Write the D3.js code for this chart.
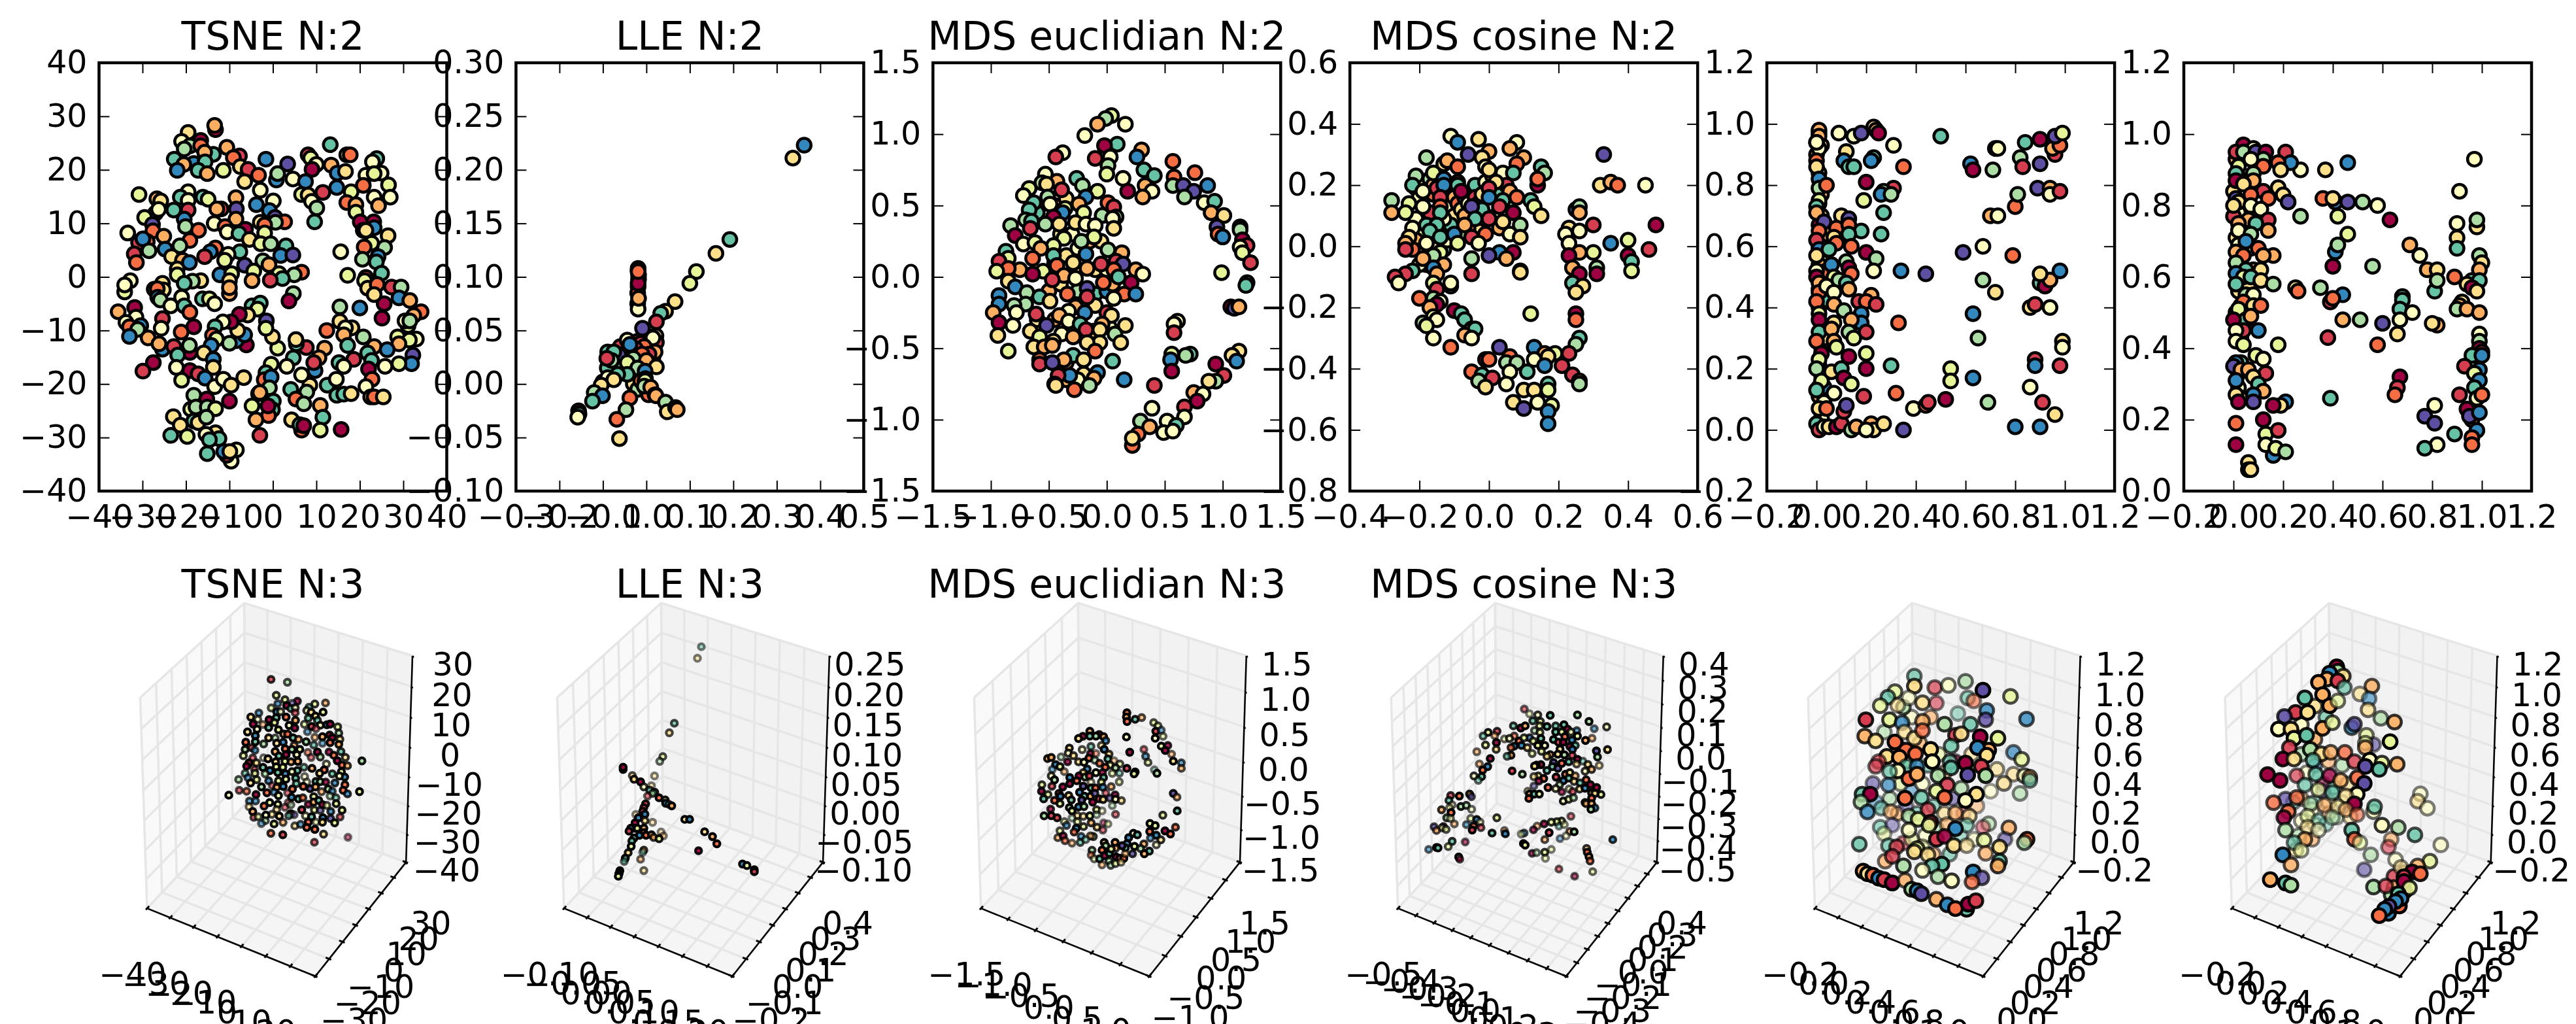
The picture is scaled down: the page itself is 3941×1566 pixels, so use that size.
<!DOCTYPE html>
<html>
<head>
<meta charset="utf-8">
<script src="https://cdn.jsdelivr.net/npm/d3@7"></script>
<style>
  html, body { margin: 0; padding: 0; background: #fff; overflow: hidden; }
  text { font-family: "DejaVu Sans", sans-serif; }
</style>
</head>
<body>
<div id="chart"></div>
<script>
var spectral = ["#9e0142","#d53e4f","#f46d43","#fdae61","#fee08b","#ffffbf","#e6f598","#abdda4","#66c2a5","#3288bd","#5e4fa2"];

// top row, each point is [x, y, colour index]
var tsne2 = [[-13.2,27.5,0],[-13.4,28.3,3],[-19.5,27,4],[-21,25.3,5],[-16.6,25.5,0],[-19.1,24.5,7],[-16.6,24.5,2],[-20.4,23.9,7],[-10.6,24.2,3],[-7.7,22.6,1],[-9.1,22.3,2],[-13.7,22.9,8],[-15.7,23.3,3],[-22.7,22,8],[-18.2,21.2,9],[-20.5,21,3],[-15.6,21.5,8],[-1.6,22,9],[3.4,21.1,10],[-22,19.9,9],[-17.2,19.9,8],[-15.1,19.3,3],[-11.4,19.9,6],[-7.5,20.6,4],[-5.7,20.1,1],[-3.3,19,2],[-6.5,17.8,4],[.8,18.1,9],[1.1,19.3,7],[4.6,18.3,5],[8.1,22.8,1],[8.7,22.2,6],[13.2,24.7,8],[10,21,5],[9,20.1,0],[13.4,20.9,3],[14.8,19.4,9],[16.7,19.7,4],[17,22.8,4],[17.8,22.8,2],[23.9,22.1,8],[22.9,21.5,5],[24.9,19.4,5],[21.4,19,5],[23.3,19.3,6],[26.6,17.2,6],[20.8,17.1,2],[7.5,17.8,9],[18,15.9,6],[14.7,16.7,9],[11.5,15.8,1],[6.6,15.4,6],[8.1,15.3,4],[8.9,14.1,5],[10.1,12.9,7],[-2.9,16.2,5],[.1,14.2,5],[-3.8,13.5,9],[-8.5,14.8,3],[-8.4,12.7,10],[-.8,12.4,9],[.5,11.1,10],[-8.5,10.8,3],[-2.9,10.2,4],[2.7,10.3,2],[.6,10.2,7],[-1.9,9.7,2],[9.6,10.3,8],[23.3,14.9,5],[27,14.9,5],[24.3,13.3,3],[17,13.9,2],[19.1,13.5,3],[19.1,12.1,6],[20.1,10.3,0],[23.2,10.3,0],[23.3,9.2,9],[20.8,8.7,4],[21.4,8.7,4],[26.5,7.7,4],[22.7,6.3,6],[21,5.6,2],[25.7,5.5,7],[15.6,4.7,5],[20.6,3.3,7],[24.2,3.8,9],[23.8,2.8,8],[25,.7,8],[17.2,.3,6],[-30.8,15.4,6],[-26.7,14.6,3],[-25.8,14.2,4],[-27,11.9,9],[-26.3,12.6,5],[-22.8,12.5,8],[-19.5,15.9,5],[-21.3,14.9,8],[-19.5,14.3,5],[-19.5,12.5,1],[-16.1,14.9,8],[-14.9,14.5,6],[-11.9,12.7,1],[-12.9,12.7,3],[-29.5,11.1,6],[-27.7,9.8,10],[-27.6,8.6,2],[-33.4,8.2,5],[-20.4,10.8,9],[-20.1,9.4,7],[-17.1,8.7,2],[-13.5,10,5],[-11,9.4,2],[-10.5,8.4,5],[-6.3,8.9,0],[-7.8,8.1,8],[-5.4,7,4],[-1.9,8.2,6],[-30.9,6.4,1],[-28.9,6.6,2],[-29.9,7.1,9],[-25.1,7.6,3],[-19.1,6.8,2],[-21.4,5.8,7],[-2.8,6.2,6],[-.5,6.2,7],[3,5.8,8],[-24.8,5.2,9],[-13.2,5.4,2],[-14.4,4.7,9],[-28.5,4.9,7],[-31.9,4.3,1],[-7.6,4.7,8],[-10.3,4.2,5],[-15.7,3.8,1],[-23.3,3.8,4],[-31.4,2.7,2],[-20.8,3.1,3],[-19.2,2.7,9],[-11.1,3.1,6],[-6.5,2.2,10],[-2.3,3,7],[1.8,4,9],[4.6,4.1,10],[-.9,2.3,3],[-22,1.5,4],[-22,.4,6],[-12.2,.4,9],[-9.5,.6,6],[1.4,.6,6],[-4.4,1.1,6],[6.6,.9,2],[4.9,.4,7],[2.2,-.3,8],[-.6,-.6,1],[-4.8,-.7,3],[-10,-.7,4],[-16.6,-.7,4],[-18.5,-.8,7],[-20.4,-1.2,8],[-32.8,-.7,5],[-34.1,-2.8,6],[-34.1,-1.5,5],[-25.4,-1.2,4],[-27.3,-2.3,6],[-25.2,-2.4,4],[-26.6,-2.2,2],[-10,-3.1,3],[-10,-2,3],[-26.5,-3.8,9],[-25.9,-4.3,7],[-21,-3.8,5],[4.7,-3.1,7],[3.7,-4.5,0],[-16.2,-4.1,8],[-14.6,-4.1,6],[-13.4,-5,5],[-23.5,-5.4,5],[-20.4,-5.4,8],[-19.1,-6.6,2],[-31.8,-5.7,0],[-35.6,-6.5,3],[-31.5,-7.5,5],[-33.8,-8.5,5],[-4.8,-5.4,8],[-2.9,-4.9,8],[-3.5,-6,6],[-5.8,-7.1,4],[-7.7,-7,0],[15.4,-5.6,7],[20,-5.8,9],[25.6,-5,0],[21.4,-.1,1],[21.1,-.7,6],[21.8,-2.1,4],[24,-1.4,2],[27.3,-1.9,1],[29.5,-1.9,7],[23.3,-3.3,4],[29,-3.9,9],[31.5,-4.4,3],[34.1,-6.5,2],[32.4,-7.2,3],[25.1,-7.7,0],[31.1,-9.1,6],[30.4,-8.2,5],[31.5,-8.2,7],[15.4,-8.3,4],[18.2,-9.5,4],[16.7,-9.5,5],[16.3,-10.8,3],[12.4,-10,2],[20.8,-11.2,7],[17.2,-12.8,8],[28.7,-11.2,6],[33,-11.6,5],[31.4,-11.8,6],[23.3,-13,3],[29,-12.5,3],[26.3,-13.6,9],[32.2,-14.6,10],[21.8,-14.2,8],[31.9,-16.2,9],[29,-16.2,6],[25.8,-16.7,5],[22.7,-15.6,8],[22,-17.2,0],[18.6,-15.4,1],[15.2,-16,8],[16.3,-16.7,5],[22.8,-19.1,2],[11.9,-13.3,3],[7.7,-13.2,1],[5.4,-12.5,8],[5.3,-11.7,4],[4.7,-15.1,8],[10.6,-15.1,3],[9.7,-17.5,9],[9.4,-16,1],[3.2,-16.7,5],[-.4,-16.3,6],[1.1,-13.3,6],[-.1,-11.2,4],[-1.5,-8.2,10],[-1.6,-9.6,6],[-6.1,-12.7,0],[-8.4,-11.9,9],[-6.5,-10.8,9],[-8.1,-10,4],[-9.6,-8.4,0],[-11.5,-8.4,5],[-13.3,-9.3,8],[-13.9,-10.9,2],[-13,-11.6,6],[-10,-12.4,7],[-14.2,-12.8,9],[-15.9,-14.2,4],[-18.2,-9.3,0],[-21.1,-10.3,2],[-25.4,-7.8,1],[-25.7,-9.6,5],[-33,-9.3,2],[-30.4,-9.1,9],[-31.1,-9.8,7],[-33,-11.1,9],[-28.7,-11.4,3],[-25.4,-13.5,9],[-26.2,-12.5,3],[-22.8,-13,1],[-19.1,-14.1,0],[-19.2,-12.8,7],[-21.9,-14.6,8],[-27.5,-16,0],[-29.9,-17.6,1],[-22.2,-16.9,5],[-19.1,-17.5,0],[-17.2,-18.1,1],[-13.7,-15.4,9],[-13.7,-16.9,4],[-15.6,-18.9,9],[-21,-19.3,6],[-13.4,-20.5,5],[-11.4,-19.1,5],[-9.6,-20.2,4],[-6.7,-18.8,4],[-1.6,-17.9,8],[-2,-19.2,2],[-.4,-18.7,9],[-.8,-20.7,7],[-3.3,-21.8,1],[-3,-21.6,3],[.1,-23.2,8],[4.1,-21,8],[8.5,-20.2,4],[6.6,-18.3,5],[7.8,-21.5,7],[5.3,-22.8,2],[7.1,-23.7,7],[10.9,-24,3],[12.5,-20.2,8],[14.6,-19.1,5],[14.7,-22.1,8],[16.3,-21.9,8],[18,-21.8,4],[21.4,-20.5,5],[22.5,-22.4,3],[23.3,-22.4,2],[25.4,-22.4,4],[-18.2,-22.1,7],[-15.2,-22.8,0],[-18.9,-24.7,6],[-17.7,-24.3,7],[-15.1,-24.3,7],[-13.2,-24.6,6],[-10,-23.2,0],[-4.8,-24.1,6],[-.1,-24.8,8],[-1,-25.9,2],[-1.1,-24.1,0],[-3.9,-26.7,3],[4.3,-26.7,4],[6.6,-28.6,2],[6.2,-27.6,8],[7.1,-27.8,0],[11.5,-26.2,8],[10.9,-28.6,6],[15.7,-28.5,0],[-3,-29.6,1],[-22.9,-26.1,4],[-21.3,-27.7,4],[-18.2,-26.9,8],[-17.2,-27.2,4],[-15.3,-26.2,7],[-23.5,-29.6,8],[-19.7,-29.8,6],[-13.2,-29.1,4],[-15.4,-29.4,5],[-12.4,-30.2,8],[-14.6,-30.4,8],[-15.1,-33,8],[-9.6,-34.4,5],[-10.6,-33.3,1],[-11.3,-32.6,9],[-8.4,-32.3,5],[-9.9,-32.6,4]];

var lle2 = [[-.07,.03,3],[-.06,.035,1],[-.05,.028,3],[-.03,.03,4],[-.02,.04,1],[0,.045,2],[.01,.035,4],[.015,.025,3],[-.01,.02,3],[-.03,.012,5],[-.05,.015,7],[-.065,.02,8],[-.08,.012,6],[-.09,.015,8],[-.03,0,4],[-.02,-.005,7],[0,-.005,8],[.005,-.01,2],[-.1,.002,5],[.363,.223,9],[.337,.211,4],[.192,.135,8],[.16,.122,4],[.115,.105,6],[.1,.094,6],[.066,.077,4],[.044,.068,4],[.033,.066,8],[.023,.058,1],[-.019,.108,0],[-.019,.106,8],[-.018,.102,4],[-.018,.098,0],[-.019,.091,0],[-.02,.085,1],[-.02,.075,5],[-.019,.07,5],[-.018,.08,3],[-.019,.094,0],[-.019,.105,2],[-.009,.052,10],[.022,.045,4],[.023,.039,1],[.015,.043,5],[.02,.03,3],[-.013,.038,1],[-.005,.035,2],[-.025,.033,1],[-.04,.035,3],[-.044,.041,5],[-.038,.037,9],[.006,.028,1],[-.01,.028,2],[-.03,.024,7],[-.063,.027,10],[-.089,.03,8],[-.075,.03,8],[-.08,.022,7],[-.091,.024,1],[-.044,.02,6],[0,.022,3],[.023,.016,4],[-.02,.015,7],[-.003,.012,9],[-.044,.009,8],[-.066,.009,8],[-.089,.006,5],[-.075,.004,4],[-.104,-.001,4],[-.12,-.008,7],[-.101,-.011,9],[-.124,-.016,8],[-.038,-.013,2],[-.047,-.024,7],[-.068,-.033,2],[-.062,-.051,4],[-.156,-.025,0],[-.155,-.028,8],[-.158,-.031,5],[-.013,.003,2],[-.002,.005,5],[-.003,.001,4],[-.003,.003,6],[-.005,-.002,7],[.01,-.003,3],[.02,-.01,0],[.022,-.011,3],[.044,-.017,7],[.048,-.026,4],[.067,-.022,3],[.071,-.024,3]];

var mdsEuc2 = [[-.4,.3,4],[-.3,.3,5],[-.45,.1,3],[-.35,.15,4],[-.25,.2,5],[-.15,.25,3],[-.05,.25,4],[-.25,.05,3],[-.1,.05,4],[0,.05,5],[-.5,-.1,3],[-.4,-.05,4],[-.25,-.1,7],[-.1,-.12,8],[0,-.1,9],[.05,-.05,3],[-.6,-.3,4],[-.45,-.3,3],[-.3,-.4,5],[-.1,-.2,4],[-.12,-.38,3],[.02,-.35,5],[-.35,-.6,3],[-.2,-.68,4],[-.35,-.72,3],[-.25,-.72,5],[-.6,.45,8],[-.45,.5,3],[-.35,.55,4],[-.75,.05,3],[.04,1.13,6],[-.01,1.11,7],[.16,1.07,5],[-.08,1.07,3],[-.19,.99,5],[.09,.93,8],[-.02,.92,0],[.3,.89,3],[.03,.84,5],[-.1,.83,1],[.26,.84,9],[-.38,.87,5],[-.44,.84,1],[.57,.81,2],[.01,.78,7],[.32,.75,8],[0,.72,6],[.41,.71,8],[.76,.73,2],[.58,.7,2],[.14,.69,5],[.33,.64,3],[-.53,.72,5],[-.43,.67,3],[-.56,.66,7],[-.52,.65,4],[-.26,.69,8],[-.21,.64,7],[.57,.64,7],[.66,.64,10],[.87,.64,9],[.75,.6,10],[.18,.6,0],[.39,.6,5],[.31,.56,3],[.67,.56,7],[-.39,.61,1],[-.67,.62,6],[-.72,.57,5],[-.08,.6,6],[-.18,.56,9],[.84,.52,5],[.93,.53,8],[-.51,.56,7],[-.63,.52,8],[-.49,.51,5],[-.24,.51,3],[.01,.52,2],[.06,.49,1],[-.67,.47,8],[-.36,.48,6],[-.38,.45,9],[-.2,.45,6],[.9,.45,3],[1.01,.43,4],[-.04,.43,7],[.08,.42,7],[.05,.41,5],[-.46,.42,0],[-.7,.4,7],[-.65,.39,8],[-.53,.37,7],[-.41,.37,4],[-.27,.38,4],[-.18,.37,5],[-.83,.36,7],[-.66,.34,1],[.06,.34,4],[-.1,.36,5],[.95,.35,10],[1.15,.35,0],[1.15,.33,7],[.96,.3,2],[1,.28,9],[-.79,.29,0],[-.11,.28,6],[-.37,.27,6],[-.72,.23,5],[-.62,.24,6],[-.22,.25,7],[1.17,.26,0],[1.21,.22,1],[1.15,.21,5],[1.17,.17,6],[1.24,.1,1],[-.46,.22,6],[-.57,.2,3],[.01,.19,7],[.13,.17,3],[-.87,.18,8],[-.85,.13,6],[-.93,.11,1],[-.85,.06,2],[-.95,.04,6],[-.64,.13,2],[-.46,.15,8],[-.18,.16,9],[-.29,.1,4],[-.43,.08,2],[-.05,.09,1],[.08,.11,1],[.14,.09,10],[-.17,.06,3],[.06,.05,2],[.25,.05,3],[.31,.02,5],[.99,.03,6],[-.55,.04,6],[-.64,.02,0],[-.37,.01,3],[-.27,-.01,5],[.1,0,8],[1.21,-.04,6],[1.2,-.06,8],[-.47,-.02,1],[-.85,-.03,4],[-.03,-.04,2],[.21,-.04,0],[-.17,-.08,10],[-.79,-.07,9],[-.93,-.13,9],[-.69,-.11,7],[-.58,-.14,8],[-.34,-.12,2],[-.17,-.14,1],[.15,-.12,2],[.25,-.12,9],[-.49,-.17,4],[.06,-.15,5],[-.93,-.19,9],[-.7,-.19,7],[-.27,-.21,3],[1.07,-.21,0],[1.1,-.22,10],[1.14,-.21,3],[-.8,-.2,7],[-.78,-.25,5],[-.98,-.25,3],[-.33,-.24,5],[-.41,-.27,3],[-.19,-.25,9],[0,-.25,1],[.04,-.27,4],[-.61,-.26,1],[-.93,-.32,0],[.61,-.31,5],[.58,-.33,5],[-.33,-.31,5],[-.23,-.33,8],[-.04,-.33,3],[.16,-.34,4],[-.81,-.34,5],[-.52,-.34,10],[-.18,-.37,1],[-.06,-.37,4],[-.66,-.38,4],[.58,-.39,1],[-.39,-.4,5],[.07,-.4,7],[-.94,-.41,4],[-.58,-.42,6],[-.29,-.42,3],[-.46,-.45,4],[-.06,-.46,4],[-.17,-.46,4],[.12,-.46,4],[-.63,-.49,4],[-.54,-.49,3],[-.47,-.48,3],[-.85,-.52,6],[-.1,-.52,2],[1.14,-.52,4],[.56,-.54,6],[.72,-.54,8],[.68,-.55,7],[1.08,-.55,4],[-.29,-.55,8],[.55,-.58,9],[1.12,-.59,9],[-.2,-.58,4],[-.37,-.58,3],[.05,-.59,8],[-.58,-.58,2],[-.58,-.61,1],[-.47,-.6,10],[.94,-.61,0],[.56,-.66,0],[1.01,-.69,1],[-.08,-.67,9],[.94,-.73,7],[.88,-.73,4],[-.32,-.69,9],[-.42,-.69,1],[-.11,-.71,3],[.15,-.72,9],[-.45,-.75,1],[-.44,-.76,4],[-.28,-.79,2],[-.15,-.76,7],[.41,-.76,1],[.75,-.81,3],[.83,-.82,5],[.78,-.87,0],[.67,-.91,1],[.39,-.92,5],[.67,-.98,5],[.29,-1.01,7],[.52,-1.01,5],[.6,-1.04,8],[.37,-1.05,3],[.49,-1.09,5],[.57,-1.08,5],[.27,-1.1,2],[.22,-1.18,2],[.22,-1.13,4]];

var mdsCos2 = [[-.21,.19,3],[-.2,.16,5],[-.19,.2,4],[-.17,.22,7],[-.16,.2,3],[-.16,.17,2],[-.15,.19,1],[-.13,.17,0],[-.12,.15,4],[-.11,.19,8],[-.11,.13,5],[-.1,.16,3],[-.1,.1,4],[-.09,.14,2],[-.08,.12,4],[-.07,.16,9],[-.07,.1,3],[-.06,.14,5],[-.05,.18,4],[-.04,.2,8],[-.04,.16,1],[-.03,.14,3],[-.02,.12,8],[-.02,.17,4],[-.01,.21,5],[.01,.23,3],[.03,.18,8],[.04,.24,5],[.05,.2,1],[.06,.15,7],[.02,.1,6],[.03,.06,3],[-.03,.05,4],[-.06,.06,2],[-.08,.04,7],[-.11,.07,8],[-.13,.09,5],[-.16,.09,7],[-.17,.11,1],[-.21,.09,5],[-.2,.04,6],[-.21,.02,3],[-.19,-.01,7],[-.17,-.01,3],[-.15,0,4],[-.13,-.01,8],[-.12,.02,5],[-.18,-.06,4],[-.2,-.06,5],[-.22,-.01,2],[-.11,.36,5],[-.09,.34,9],[-.03,.35,4],[0,.31,3],[.08,.34,5],[.06,.32,3],[.33,.3,10],[-.06,.3,10],[-.18,.29,7],[-.13,.27,4],[-.12,.28,3],[-.02,.29,4],[.1,.29,3],[.08,.27,2],[-.09,.26,2],[.15,.26,8],[.16,.24,7],[-.01,.26,5],[0,.25,4],[-.16,.24,6],[-.21,.23,7],[.07,.24,8],[-.13,.22,9],[.14,.2,0],[.14,.22,2],[.32,.2,4],[.35,.21,3],[.37,.2,2],[.45,.2,5],[-.13,.2,9],[-.09,.21,1],[-.09,.2,8],[.02,.21,4],[-.22,.2,8],[-.19,.18,5],[-.08,.18,0],[0,.19,1],[.06,.18,3],[-.28,.15,7],[-.23,.14,6],[-.14,.16,1],[0,.16,9],[.04,.15,8],[.08,.16,2],[.12,.15,8],[.25,.12,9],[.26,.13,7],[-.05,.13,10],[.03,.13,1],[.13,.13,6],[-.28,.11,3],[-.19,.13,5],[-.14,.13,2],[-.14,.11,8],[.15,.1,4],[-.24,.11,6],[.07,.11,0],[.26,.11,3],[-.04,.09,8],[0,.09,1],[-.07,.07,3],[.04,.08,4],[.09,.07,7],[.3,.07,1],[.48,.07,0],[-.18,.07,8],[-.15,.07,8],[-.22,.06,5],[.23,.06,4],[.26,.05,5],[-.17,.05,8],[.06,.04,5],[-.1,.04,9],[-.14,.03,8],[.22,.04,5],[-.05,.03,1],[-.01,.04,2],[.09,.03,4],[.4,.02,6],[.35,.01,9],[-.23,.03,4],[-.24,.01,3],[-.18,.01,5],[-.09,.01,6],[-.03,.01,5],[.23,.01,5],[.46,-.01,1],[-.14,-.02,6],[.26,-.02,3],[.3,-.02,6],[.03,-.02,9],[0,-.03,10],[.07,-.02,0],[-.24,-.01,1],[-.16,-.03,7],[.23,-.03,0],[-.05,-.04,7],[.05,-.04,3],[.4,-.03,0],[.41,-.05,8],[-.19,-.04,3],[-.13,-.06,3],[-.16,-.07,9],[.24,-.07,3],[.31,-.07,7],[.41,-.08,6],[-.22,-.08,8],[.09,-.08,0],[.09,-.085,4],[-.05,-.09,1],[-.24,-.09,1],[-.15,-.09,3],[-.27,-.1,1],[.26,-.09,0],[.31,-.09,0],[-.26,-.12,5],[-.16,-.12,6],[-.11,-.13,8],[-.11,-.12,5],[.24,-.12,8],[.27,-.13,4],[.25,-.15,4],[-.15,-.14,1],[-.2,-.17,2],[-.16,-.17,7],[-.14,-.18,5],[-.15,-.19,0],[-.17,-.2,3],[-.1,-.21,0],[.12,-.22,6],[.25,-.22,0],[.25,-.24,2],[-.08,-.22,8],[-.16,-.23,6],[-.07,-.24,8],[-.15,-.24,5],[-.19,-.25,7],[-.18,-.26,6],[-.05,-.27,4],[-.04,-.27,8],[-.07,-.29,3],[-.05,-.3,5],[-.16,-.3,5],[.26,-.3,8],[-.11,-.33,2],[.03,-.33,10],[.13,-.33,9],[.25,-.32,7],[.06,-.36,2],[.19,-.35,6],[.16,-.35,3],[.23,-.35,1],[-.01,-.37,0],[0,-.37,2],[.13,-.37,5],[.05,-.38,7],[.08,-.38,7],[.17,-.36,4],[.21,-.39,1],[.16,-.39,9],[-.05,-.41,2],[-.02,-.42,8],[.06,-.41,5],[.11,-.41,8],[.24,-.42,1],[.01,-.43,1],[.26,-.44,2],[.26,-.45,7],[-.03,-.44,7],[-.01,-.46,4],[.05,-.45,5],[.17,-.45,8],[.1,-.47,4],[.13,-.47,4],[.17,-.47,6],[.07,-.51,4],[.14,-.51,5],[.18,-.52,6],[.1,-.53,10],[.17,-.54,9],[.17,-.58,9]];

var sc5 = [[.01,.97,5],[.02,.93,4],[0,.9,3],[.01,.84,4],[.02,.77,3],[.01,.74,1],[.02,.7,4],[.01,.67,0],[.02,.63,8],[.01,.6,3],[.02,.55,6],[.01,.54,3],[.02,.5,1],[.01,.46,5],[.02,.43,4],[.01,.4,0],[.02,.34,3],[.01,.3,4],[.02,.27,1],[.01,.21,4],[.02,.18,0],[.01,.14,8],[.01,.11,3],[.02,.04,5],[.04,.52,2],[.05,.42,8],[.04,.3,4],[.03,.6,5],[.04,.64,3],[.03,.14,9],[.01,.98,3],[.01,.96,3],[0,.94,0],[.01,.92,5],[0,.94,5],[0,.88,2],[0,.86,4],[.01,.82,9],[.01,.79,7],[.04,.8,2],[.01,.75,6],[0,.73,8],[0,.71,3],[.03,.68,10],[.01,.65,2],[0,.62,1],[.01,.59,9],[0,.57,4],[0,.52,5],[0,.5,0],[.01,.48,3],[.01,.45,2],[0,.42,2],[.01,.38,6],[.01,.36,0],[.01,.32,8],[0,.29,2],[.02,.25,0],[.01,.23,6],[0,.2,7],[.02,.16,6],[0,.13,8],[.03,.09,5],[.01,.07,4],[.04,.07,2],[0,.02,8],[.01,0,1],[.03,.01,5],[.05,.01,4],[.08,.01,0],[.1,.02,1],[.11,.06,1],[.12,.08,10],[.14,0,7],[.16,.01,3],[.22,.02,3],[.23,0,4],[.27,.02,4],[.35,0,10],[.2,0,5],[.09,.97,5],[.15,.96,5],[.18,.97,10],[.23,.99,4],[.24,.98,3],[.25,.97,0],[.31,.93,5],[.5,.96,8],[.12,.91,4],[.11,.88,9],[.13,.86,8],[.15,.86,8],[.23,.89,8],[.22,.88,9],[.35,.86,2],[.2,.81,0],[.31,.79,1],[.27,.78,7],[.26,.77,9],[.3,.77,7],[.19,.75,6],[.27,.71,8],[.1,.7,4],[.13,.69,10],[.08,.66,2],[.13,.67,2],[.18,.65,8],[.07,.63,4],[.13,.64,8],[.26,.64,8],[.08,.61,2],[.14,.6,2],[.05,.59,8],[.2,.58,0],[.24,.56,7],[.12,.55,7],[.06,.54,9],[.13,.53,0],[.14,.51,2],[.23,.52,5],[.34,.52,9],[.44,.51,10],[.07,.5,6],[.09,.49,7],[.12,.48,8],[.04,.47,5],[.07,.45,5],[.13,.46,3],[.22,.44,3],[.17,.42,1],[.2,.42,2],[.24,.41,1],[.07,.41,3],[.11,.39,7],[.18,.38,9],[.18,.35,9],[.33,.35,2],[.07,.35,4],[.14,.36,3],[.06,.33,3],[.13,.32,7],[.2,.32,1],[.15,.3,6],[.07,.29,3],[.08,.27,6],[.2,.25,6],[.13,.24,0],[.3,.21,8],[.06,.19,4],[.1,.2,8],[.11,.17,0],[.2,.2,0],[.14,.15,6],[.07,.12,5],[.19,.11,1],[.32,.12,2],[.39,.07,5],[.44,.08,2],[.45,.09,1],[.52,.1,0],[.54,.2,6],[.54,.16,6],[.63,.17,9],[.69,.09,7],[.8,.01,9],[.9,.01,9],[.96,.05,4],[.91,.09,1],[.86,.14,5],[.88,.23,1],[.88,.21,9],[.98,.21,1],[.99,.29,4],[.99,.27,5],[.65,.3,7],[.63,.38,9],[.86,.4,4],[.88,.41,1],[.94,.4,5],[.72,.45,4],[.67,.49,7],[.9,.48,8],[.92,.47,0],[.94,.49,3],[.9,.51,4],[.98,.52,9],[.79,.57,2],[.59,.58,10],[.67,.6,5],[.7,.7,3],[.73,.7,5],[.8,.73,2],[.81,.77,7],[.89,.79,10],[.94,.79,3],[.94,.77,5],[.98,.78,1],[.62,.87,9],[.63,.85,0],[.71,.85,7],[.72,.92,0],[.73,.92,5],[.82,.89,7],[.83,.86,1],[.84,.94,8],[.9,.95,0],[.9,.87,10],[.96,.9,1],[.95,.92,3],[.98,.93,2],[.96,.96,10],[.99,.97,6]];

var sc6 = [[.01,.93,3],[.02,.88,5],[0,.84,4],[.02,.78,5],[0,.77,1],[.01,.71,4],[.02,.69,5],[.01,.67,3],[.03,.63,4],[.02,.6,7],[.02,.56,4],[.03,.52,5],[.01,.5,3],[.02,.44,4],[.03,.43,5],[.02,.46,7],[.03,.36,8],[.02,.33,9],[.02,.29,5],[.03,.26,4],[.04,.58,3],[.06,.57,4],[.08,.62,3],[.07,.68,5],[.06,.76,3],[.97,.93,5],[.04,.97,0],[.08,.96,5],[.01,.95,1],[.04,.95,7],[.09,.95,10],[.13,.95,0],[.21,.95,1],[.46,.92,9],[.37,.9,4],[.27,.9,5],[.23,.92,9],[.18,.92,2],[.19,.9,4],[.12,.93,7],[.07,.93,5],[.02,.91,6],[.12,.91,2],[.01,.89,8],[.08,.89,7],[.01,.87,0],[.08,.87,3],[.04,.86,4],[.18,.85,4],[.91,.84,5],[.2,.83,4],[.12,.84,1],[.07,.83,2],[.01,.82,10],[.14,.82,2],[.36,.82,2],[.41,.81,9],[.4,.82,4],[.46,.81,10],[.22,.81,10],[.02,.81,4],[.52,.81,7],[0,.8,4],[.07,.8,5],[.58,.8,5],[.11,.79,5],[.27,.77,7],[.42,.77,6],[.63,.76,0],[.98,.74,4],[.98,.76,7],[.9,.75,5],[.14,.76,1],[.02,.75,3],[.09,.75,8],[.02,.73,5],[.14,.73,3],[.07,.72,7],[.46,.72,6],[.9,.71,4],[.41,.67,9],[.42,.69,7],[.05,.7,9],[.71,.69,3],[.1,.68,2],[.9,.68,8],[.16,.66,3],[.12,.66,3],[.04,.66,2],[.75,.66,5],[.99,.66,7],[.01,.64,7],[1,.64,4],[.4,.63,0],[.05,.62,8],[.11,.62,4],[.56,.63,7],[.78,.62,3],[.82,.62,4],[.99,.62,3],[.01,.61,9],[.89,.6,2],[.04,.6,6],[.07,.6,8],[.11,.59,4],[.16,.58,7],[.96,.59,8],[.99,.59,8],[.81,.56,8],[.82,.59,7],[.94,.58,4],[.96,.57,0],[.01,.58,8],[.25,.57,4],[.26,.56,2],[.35,.57,7],[.98,.56,4],[.05,.55,7],[.08,.55,5],[.44,.55,9],[.39,.53,1],[.4,.54,2],[.68,.545,8],[.68,.535,8],[.04,.53,2],[.08,.52,4],[.11,.52,2],[.92,.53,4],[.91,.52,3],[.9,.51,7],[.94,.51,3],[.02,.51,6],[.67,.51,8],[.72,.5,5],[.99,.5,3],[.05,.48,8],[.07,.49,3],[0,.48,0],[.44,.48,3],[.51,.48,7],[.67,.48,5],[.6,.47,10],[.82,.465,3],[.8,.47,4],[.04,.45,1],[.01,.45,5],[.1,.45,9],[.99,.44,5],[.66,.44,4],[.38,.43,1],[.01,.42,5],[.04,.41,6],[.18,.41,6],[.58,.41,2],[.99,.42,7],[.99,.4,0],[1,.39,1],[.96,.38,8],[1,.38,9],[.09,.38,6],[.12,.37,5],[.93,.35,1],[.01,.36,9],[0,.35,10],[.03,.34,3],[.06,.34,3],[.99,.34,9],[.13,.33,1],[.67,.32,0],[.97,.33,6],[.99,.31,9],[.01,.31,9],[.08,.32,4],[.1,.3,8],[.66,.29,1],[.97,.29,8],[.12,.28,3],[.65,.27,2],[.01,.27,4],[.08,.27,9],[.91,.27,1],[.98,.26,5],[1,.27,2],[.39,.26,8],[.02,.25,0],[.08,.25,10],[.21,.25,9],[.19,.24,4],[.16,.24,0],[.81,.24,5],[.94,.23,0],[.12,.2,0],[.77,.21,10],[.81,.19,10],[.96,.2,1],[.95,.21,10],[.99,.22,9],[.01,.19,2],[.98,.17,9],[.13,.16,6],[.18,.17,1],[.89,.16,8],[.96,.15,2],[.01,.13,0],[.13,.13,5],[.82,.13,5],[.96,.13,2],[.77,.12,8],[.16,.1,9],[.17,.12,6],[.21,.11,7],[.06,.08,4],[.06,.06,0],[.07,.06,4]];

// bottom row, [across, up (down the picture), colour index, opacity], in the units of viewDomainX / viewDomainY of that panel
var tsne3 = [[224,87,1,.7],[299,100,7,.6],[248,160,6,.7],[288,180,6,.7],[345,187,0,.7],[322,197,10,.5],[255,198,9,.6],[296,207,0,1],[225,218,6,.6],[315,220,8,.7],[335,218,5,.7],[425,200,6,.7],[474,195,3,.6],[398,215,8,.6],[168,241,9,.6],[250,236,9,.8],[268,235,5,.7],[335,240,1,.6],[388,230,5,.7],[408,238,4,.8],[463,237,6,.9],[131,260,4,.8],[163,270,5,.6],[215,272,0,.9],[248,263,8,.9],[293,260,2,.9],[336,275,3,.8],[428,255,4,.9],[395,265,8,.7],[437,275,8,.7],[142,292,0,.8],[187,294,3,.5],[240,285,6,.8],[307,298,5,.9],[377,293,6,.6],[410,303,1,1],[450,297,5,.8],[480,295,9,.8],[495,292,0,.9],[530,305,6,.7],[160,315,5,.9],[213,308,8,.9],[258,318,6,.9],[333,310,0,.8],[430,313,1,.5],[116,328,4,.9],[391,327,9,.5],[535,333,7,.7],[282,338,3,.8],[300,338,2,.8],[152,345,9,.9],[213,355,4,.8],[243,356,7,.6],[325,355,8,.9],[350,362,3,.7],[425,353,3,.5],[460,350,3,.9],[493,342,0,.8],[505,355,0,.9],[540,362,4,.7],[108,375,2,.9],[152,373,8,1],[190,383,7,.7],[250,380,4,.9],[280,375,9,.8],[330,390,3,.7],[385,373,7,.8],[420,388,8,.6],[460,380,9,.5],[495,377,2,1],[535,385,3,.8],[105,408,7,.8],[135,400,1,.7],[150,412,9,.6],[243,418,3,.9],[289,405,2,.9],[320,408,7,.9],[356,408,6,1],[393,422,2,.5],[437,420,0,.9],[490,420,0,.7],[512,435,2,.8],[545,418,8,.7],[97,437,6,.7],[140,447,1,.6],[190,447,5,.5],[210,451,4,.9],[260,438,8,.9],[293,432,0,1],[342,432,5,1],[408,445,1,.5],[450,443,7,.7],[565,445,4,.7],[641,461,7,.8],[123,470,0,.9],[157,470,4,.7],[245,465,4,.9],[288,463,6,.8],[316,465,3,.8],[347,463,3,.9],[528,460,0,.9],[478,475,5,.6],[112,485,0,.8],[187,491,8,.9],[248,488,6,1],[278,490,6,.8],[412,495,3,.9],[550,480,2,.8],[575,483,3,.7],[148,500,1,.6],[219,505,9,1],[345,505,8,.8],[375,490,8,.6],[468,502,2,1],[547,510,6,.9],[105,518,8,.6],[150,518,6,.7],[197,520,7,.6],[255,514,8,.9],[290,520,9,.9],[320,510,5,.8],[447,518,4,.9],[505,520,8,.7],[378,533,5,.5],[118,538,9,.6],[75,546,7,.6],[158,547,6,.7],[292,545,6,.9],[337,540,8,.8],[562,535,9,.8],[538,530,5,.8],[213,552,9,.7],[258,552,6,.8],[388,558,5,.5],[430,555,8,.8],[450,556,7,.8],[475,558,0,.7],[517,562,9,.7],[130,562,4,.9],[340,565,8,.7],[563,570,2,.8],[78,596,1,.6],[112,600,2,.6],[180,580,7,1],[230,575,1,.5],[280,578,9,.9],[250,582,3,.8],[322,590,2,1],[372,578,2,.9],[403,588,10,.9],[428,580,3,.8],[486,590,7,.8],[555,596,2,.8],[205,607,2,.8],[575,612,9,.7],[630,602,6,1],[30,618,5,1],[155,615,0,.8],[238,605,9,.6],[300,608,1,.5],[456,602,3,.6],[505,600,9,.6],[258,620,6,.9],[318,628,9,.8],[350,635,8,1],[370,630,2,.7],[420,625,6,.8],[495,622,7,.5],[522,630,8,.6],[125,645,9,.6],[153,645,9,.6],[218,652,6,.9],[255,660,6,1],[303,652,1,.5],[395,660,0,.7],[420,650,3,.8],[443,642,8,1],[460,662,0,.8],[523,657,6,.8],[123,671,4,.5],[192,668,2,.8],[288,674,1,.5],[315,662,7,.5],[365,685,1,.9],[423,686,6,.7],[480,665,6,.6],[450,688,10,.6],[550,687,6,.8],[498,693,9,.7],[140,693,3,.9],[250,684,4,.6],[315,703,2,.8],[228,706,4,.6],[200,710,5,1],[262,714,4,.9],[382,713,5,.6],[410,717,8,1],[462,722,9,.9],[497,725,10,.7],[541,718,1,.6],[145,720,1,.6],[165,717,6,.6],[330,708,10,.5],[305,712,8,.6],[198,735,7,.6],[180,748,9,.5],[238,750,6,.8],[279,743,3,.6],[395,742,2,.9],[430,742,6,.5],[460,742,4,.8],[516,745,6,.8],[333,759,4,.6],[360,752,9,.6],[388,766,2,1],[425,775,2,1],[223,793,2,.7],[278,800,1,.8],[465,797,4,.7],[423,834,1,.6],[577,811,0,.4]];

var lle3 = [[429,-513,8,.4],[411,-460,4,.4],[305,-162,8,.6],[282,-118,4,.6],[252,-9,6,.6],[238,13,7,.5],[70,50,2,1],[70,40,0,1],[112,78,4,.6],[120,95,4,.8],[214,80,4,.4],[150,107,0,1],[165,130,5,.7],[200,125,4,.4],[192,145,8,.7],[215,155,8,.8],[205,160,7,.6],[182,172,1,.5],[235,180,2,.9],[263,190,6,.8],[265,205,9,.8],[280,210,8,.7],[293,217,3,.9],[173,208,1,.8],[165,225,1,.8],[160,242,1,.8],[170,255,9,.8],[128,257,4,.4],[140,272,9,.9],[170,285,4,.7],[205,293,4,.4],[125,295,0,.9],[125,320,9,.9],[105,320,9,1],[135,320,6,.9],[165,320,3,.9],[97,333,1,1],[165,340,2,.9],[145,352,9,.9],[175,352,2,.9],[200,350,3,.8],[244,337,4,.4],[255,355,3,.4],[210,362,3,.7],[235,368,6,.8],[120,365,8,.9],[110,378,8,.8],[107,403,6,.9],[93,432,4,.8],[80,457,8,.9],[75,472,8,.5],[165,420,3,.7],[160,430,8,.4],[150,462,3,.5],[165,514,4,.5],[353,279,4,.9],[375,279,9,1],[444,336,4,1],[480,358,3,1],[500,391,2,1],[416,423,0,.8],[618,484,9,1],[638,491,6,1],[672,510,0,1],[672,519,1,1],[55,515,8,.9],[52,525,8,1],[50,530,0,1],[48,540,6,1]];

var mdsEuc3 = [[432,150,2,1],[430,170,3,1],[433,190,2,1],[470,180,8,.8],[500,172,3,.6],[555,195,6,.6],[575,210,6,.6],[565,235,1,.9],[590,230,9,.5],[598,258,6,.5],[430,261,5,1],[562,267,5,1],[590,303,6,.9],[620,300,0,.7],[608,323,0,.9],[637,340,3,.5],[445,331,0,1],[510,318,1,.5],[518,350,9,.6],[529,378,6,.6],[645,372,4,1],[682,380,9,.6],[682,405,3,.6],[432,405,1,1],[470,422,5,.9],[465,430,6,.9],[558,412,8,.4],[570,428,7,.9],[645,520,10,.8],[662,537,3,.6],[663,600,8,1],[597,620,6,.7],[538,658,6,1],[562,668,6,1],[655,675,2,.7],[607,692,0,.9],[632,706,2,1],[537,695,2,.9],[567,712,9,.8],[540,725,9,.6],[588,733,4,.7],[567,756,5,.6],[462,703,5,1],[480,710,8,1],[440,723,9,1],[510,752,3,.7],[467,763,6,.9],[433,750,9,1],[495,773,7,.7],[535,785,8,.8],[512,797,3,.9],[458,797,10,.7],[425,770,8,.8],[410,760,10,.9],[378,745,3,.9],[380,772,3,.7],[328,745,4,1],[335,760,7,.8],[318,780,2,1],[272,781,7,.7],[268,803,2,.5],[282,820,6,.5],[307,820,8,.8],[330,806,0,1],[352,795,8,.9],[360,775,6,.8],[383,812,0,1],[400,818,2,1],[418,818,2,1],[350,830,7,.7],[318,848,3,.5],[358,850,7,.6],[380,842,6,.6],[405,836,4,.5],[425,797,3,.5],[230,258,0,.8],[305,250,0,.8],[262,235,3,.9],[210,268,4,1],[262,257,8,1],[290,257,7,.9],[325,260,3,.9],[335,278,9,.7],[168,312,4,.8],[227,319,5,.6],[267,305,8,.6],[315,300,4,.6],[328,318,9,1],[265,338,0,.7],[290,337,2,.4],[350,340,4,.7],[163,335,5,.7],[187,347,4,.7],[68,360,3,.8],[85,355,3,.8],[130,353,7,.5],[258,358,2,1],[345,362,8,.8],[373,370,3,.4],[160,375,0,.7],[210,375,4,.7],[235,377,5,.9],[285,368,7,.6],[307,382,2,.7],[355,390,6,.7],[400,385,6,.6],[105,388,9,.8],[125,397,6,.8],[333,400,2,.8],[380,403,7,.7],[90,410,9,.5],[145,420,3,.5],[250,408,9,.8],[290,425,5,.9],[365,428,6,.5],[398,427,8,.5],[320,425,0,.7],[232,425,4,.7],[85,440,5,.7],[170,447,9,1],[212,440,0,.8],[240,445,7,.8],[260,440,1,.8],[325,447,8,.8],[100,458,7,1],[397,467,6,.5],[202,462,2,.9],[267,468,5,.5],[315,468,6,.7],[170,475,0,.9],[42,480,6,.7],[88,487,1,.7],[232,487,10,1],[268,495,8,1],[322,492,9,.7],[360,489,3,.6],[138,490,0,.8],[288,495,2,.8],[40,510,0,.8],[70,525,6,.7],[120,520,1,.8],[215,515,9,1],[335,518,1,.5],[378,527,0,.7],[127,533,9,.9],[165,530,4,.8],[237,533,8,1],[265,533,3,.9],[285,520,10,.7],[50,545,8,.8],[100,552,2,.8],[177,550,8,.9],[225,550,10,.9],[305,545,1,.8],[323,548,4,.8],[354,542,10,.6],[380,547,5,.8],[407,553,4,.6],[125,567,6,.8],[275,560,0,.8],[210,582,9,.9],[168,585,7,1],[235,580,7,.8],[365,576,7,.4],[82,592,0,.7],[180,600,6,.9],[293,595,6,.7],[318,600,5,.4],[380,616,1,.5],[52,623,7,.8],[85,622,1,.9],[112,632,1,.8],[205,622,4,.6],[232,625,4,.6],[262,623,6,.8],[180,633,7,.4],[293,618,7,.4],[145,650,6,.5],[155,667,9,.6],[205,650,6,.6],[268,655,3,.7],[325,655,0,.4],[345,660,6,.4],[200,680,9,.9],[233,672,6,.7],[295,675,4,.7],[125,692,6,.6],[190,697,2,.7],[322,688,1,.5],[278,718,6,.7],[222,717,9,.6],[265,715,3,.6],[115,723,3,.6],[140,715,0,.7],[148,737,2,.6],[180,748,3,.5],[218,745,8,.6],[243,732,8,.5]];

var mdsCos3 = [[636,73,1,.5],[660,95,6,.4],[698,100,5,.7],[755,102,8,1],[880,100,7,.8],[933,130,7,.9],[1014,155,5,.7],[957,163,9,.5],[675,127,8,.7],[710,130,6,.7],[586,150,8,.7],[620,160,0,1],[640,150,3,.9],[706,150,6,.7],[740,153,8,.9],[780,150,8,.7],[818,145,8,.9],[835,165,0,.8],[877,172,9,.6],[511,175,1,.7],[470,180,6,.8],[683,172,7,.6],[708,180,6,.7],[780,178,8,.9],[808,178,6,.8],[850,178,5,.7],[500,195,3,.5],[447,197,8,.6],[590,197,2,.6],[880,197,6,.9],[660,205,9,.7],[545,210,6,.5],[568,208,5,.7],[612,220,2,.9],[635,205,6,.7],[677,220,6,.7],[712,208,8,.9],[770,213,8,.9],[822,200,2,.9],[917,217,3,1],[947,207,3,.5],[508,227,0,1],[458,238,6,.7],[590,243,9,.8],[623,240,9,.8],[650,250,4,.7],[698,240,6,1],[730,240,5,1],[793,225,1,.9],[815,225,0,.9],[855,215,9,.8],[870,240,8,.7],[507,258,4,.7],[575,250,2,.7],[715,267,6,.7],[800,257,4,.9],[845,245,0,.8],[857,258,9,.8],[967,265,10,.9],[1018,259,4,.8],[418,269,3,.5],[672,277,6,.6],[755,282,3,.8],[790,280,4,.9],[820,283,7,.9],[856,286,1,.7],[575,285,3,.8],[557,290,8,.6],[740,290,4,.7],[972,293,7,.8],[480,300,0,.9],[880,304,0,1],[905,312,8,.5],[840,315,8,.8],[712,328,0,1],[808,322,2,.9],[770,318,10,.8],[876,325,4,.6],[928,327,4,.7],[980,332,4,.5],[430,325,3,.5],[692,330,9,1],[468,337,9,.8],[765,337,8,.8],[790,345,10,1],[683,335,4,.9],[945,350,3,.7],[445,353,2,.9],[740,355,8,.8],[915,358,5,.7],[580,357,1,.8],[627,372,7,.8],[405,380,5,.7],[440,383,8,.8],[700,380,4,.7],[680,383,4,.6],[825,372,2,.9],[845,365,4,.8],[425,400,8,.5],[782,385,1,1],[840,390,8,.8],[870,380,3,.6],[725,392,2,.9],[815,402,9,.9],[865,405,4,.7],[920,398,2,.8],[703,403,0,.7],[798,420,7,.7],[892,412,8,.7],[940,420,0,.8],[680,426,10,.5],[745,433,2,1],[780,438,5,.7],[842,440,6,.5],[890,440,4,.7],[915,436,9,.9],[968,433,0,.9],[652,450,4,.5],[808,453,0,.6],[858,452,1,.6],[945,458,4,.9],[988,465,6,.8],[960,460,4,.8],[660,463,3,1],[682,463,8,1],[705,463,6,1],[657,483,2,1],[945,482,2,.9],[815,495,5,.8],[840,487,6,.7],[862,480,7,.6],[915,502,9,.8],[920,507,3,.7],[945,507,3,.8],[960,527,9,.7],[942,533,7,1],[298,470,1,.7],[338,472,2,1],[385,463,3,.8],[393,475,10,.6],[290,492,8,.7],[305,513,5,.5],[293,525,6,.5],[345,520,7,.8],[370,515,7,.7],[394,533,5,.5],[256,535,3,.7],[300,548,2,1],[280,572,7,.7],[297,575,6,.5],[390,575,6,.5],[418,580,9,.8],[510,572,6,.7],[315,600,3,.5],[433,592,5,.5],[850,565,1,.5],[807,587,6,.7],[785,590,6,.7],[760,592,6,.7],[727,600,0,.7],[695,610,3,.5],[795,610,8,.4],[820,603,6,.4],[222,613,10,.6],[265,612,0,.7],[258,618,6,.6],[277,625,6,.6],[233,630,3,.6],[370,603,9,.5],[403,610,2,.8],[437,617,1,.6],[397,628,1,1],[678,627,0,.6],[545,630,3,.5],[549,645,9,.8],[488,642,8,.8],[635,642,9,.6],[622,647,6,.4],[750,640,1,1],[845,635,3,.6],[865,636,7,.9],[800,667,9,.4],[828,655,5,.4],[730,672,3,.6],[1042,672,9,.7],[365,683,0,.5],[305,680,8,.7],[287,704,6,.6],[233,708,9,.9],[240,710,8,1],[197,717,9,.5],[632,690,4,.9],[640,697,6,1],[672,735,0,.6],[692,732,7,.5],[730,730,6,.7],[760,717,6,.4],[733,758,6,.4],[922,713,4,.7],[925,730,2,.8],[933,750,3,1],[938,770,2,.7],[335,752,7,1],[340,762,0,.6],[795,807,1,.5],[867,840,0,.5],[950,819,6,.5]];

var sc5d3 = [[33,62,5,.6],[37,58,7,.6],[41,63,3,.6],[44,57,8,.5],[48,60,6,.5],[50,55,4,.6],[54,58,0,.6],[34,52,6,.5],[38,50,9,.4],[42,52,5,.5],[46,46,8,.5],[50,44,4,.5],[53,48,10,.5],[57,44,1,.4],[30,48,7,.5],[33,44,3,.5],[36,46,10,.4],[40,44,8,.5],[43,38,5,.5],[47,40,7,.5],[51,41,3,.5],[56,38,8,.4],[35,36,1,.5],[38,37,6,.5],[42,35,6,.5],[46,33,3,.5],[52,33,8,.5],[61,37,5,.4],[28,66,7,.5],[38,70,5,.5],[45,70,3,.5],[55,71,8,.4],[60,60,4,.5],[67,50,5,.4],[62,46,3,.4],[25,47,9,.4],[39,81.1,8,.6],[39,78.4,4,.8],[46.5,78,1,.6],[51.5,78.6,5,.6],[57.8,79.7,7,.6],[64.2,77.3,10,1],[58.6,75.2,8,.5],[60.8,74.4,2,.5],[74.3,75.6,6,.7],[65.6,71.8,9,.7],[65.2,69.3,10,.7],[80.2,69.5,9,.7],[31.9,76.9,6,.7],[29.3,75.4,8,.7],[26.5,73.1,6,.7],[35,72.7,7,.7],[37,75.2,5,.5],[42,73.9,4,.7],[47.1,73.8,1,.5],[32.9,73.2,4,.5],[21.2,69.3,1,.9],[29.9,69.3,6,.8],[34.5,68.5,9,.7],[42,68.9,3,.7],[20.8,64.9,3,.8],[24.8,63.6,4,.8],[31.9,63.3,2,1],[35.4,66,4,.6],[39,64.3,4,.7],[50.1,68.1,7,.8],[42,66.4,2,.7],[54.1,65.1,1,.8],[59.6,68.1,8,.7],[56.2,65.5,4,.8],[63.2,64.7,0,1],[69.7,64.3,6,.9],[66.3,61.1,3,1],[62.2,61.8,9,1],[65.6,59.7,4,1],[75.4,60.5,9,.6],[78.4,58.6,6,.7],[52.5,62.2,8,.7],[45,61.3,4,1],[36,61.1,2,.9],[28.9,59.4,4,.9],[39.4,60.1,2,.9],[33.5,59.2,3,1],[25.9,58,1,.6],[24.8,56.7,1,.6],[45.6,58,5,1],[52.1,58,8,.7],[57.8,57.6,0,1],[63.6,56.7,1,.9],[69.3,55.9,4,.5],[75.4,54.6,4,.5],[79.4,54.2,5,.7],[81.4,53.8,3,.7],[81.4,52.9,8,.6],[71.9,52.1,4,.6],[58.6,54.4,10,1],[65.2,54.2,7,.9],[36,56.7,8,.6],[40,56.7,9,.7],[32.9,55.5,5,.9],[29.9,55.3,8,.6],[23.8,52.1,10,.5],[29.5,51.7,9,.6],[37,53.4,2,.9],[40,54.6,3,.9],[47.7,54.2,7,.8],[52.5,56.3,8,.8],[51.1,51.7,1,.8],[56.2,50.8,7,.6],[61.8,49.2,4,1],[57.8,47.5,5,1],[77.8,49.4,7,.5],[19.8,49.2,8,.8],[22.8,49.2,0,.9],[19.4,47.1,7,.7],[21.8,44.4,9,.7],[26.9,45.4,8,.5],[30.3,44.5,3,.5],[35.6,48.1,2,1],[41.6,48.3,8,.7],[47.1,50,6,.8],[50.1,48.3,2,.9],[44,45,1,.7],[37,43.3,7,.7],[40.4,42.4,6,.8],[45,41.6,1,.9],[54.1,44.1,3,.6],[59.2,43.3,4,.6],[66.3,41.2,7,.5],[64.2,40.3,1,.4],[58.2,40.8,8,.5],[54.1,39.9,9,.9],[26.5,40.3,8,.5],[30.9,40.8,10,.4],[27.9,38.5,6,.4],[37,39.5,5,.7],[44.4,40.8,6,.8],[18.8,35.7,8,.7],[29.5,35.3,8,.6],[32.5,35,1,.7],[40,34.5,6,.8],[39,33.6,4,.8],[47.1,37,1,.9],[50.1,37.8,0,.8],[53.5,35.3,4,.8],[58.2,35.3,4,.5],[64.6,36.8,6,.7],[73.7,40.1,3,.7],[72.3,37,10,.5],[70.3,34.9,4,.8],[80.4,37,2,.9],[79.4,36.1,7,.7],[65.2,33.2,3,.6],[70.3,31.1,8,.8],[69.7,29.8,3,.8],[44,32.8,4,.7],[35,29.8,7,.8],[28.3,31.1,3,.6],[30.9,32.4,1,.7],[49.1,30.3,8,.9],[45.5,29.8,8,.8],[42,28.6,5,.7],[47.7,26.9,7,.7],[60.6,28.2,9,.9],[63.8,26.6,10,.7],[60.2,25.5,2,.7],[52.7,25.8,5,.8],[20.2,28.4,3,1],[21.8,27.7,4,1],[23.8,27.3,2,1],[25.9,26.5,9,1],[27.9,26.1,1,1],[30.9,25.2,0,1],[35.6,25.9,3,.7],[38,23.5,7,.9],[40,23.1,9,1],[41.6,22.3,10,.9],[47.1,20.8,3,.8],[51.1,19.3,9,.9],[58.2,18.1,8,1],[54.1,18.3,2,1],[58.8,19.5,0,1],[61.6,20.4,1,.9]];

var sc6d3 = [[33,73,4,.7],[28,68,5,.7],[33,64,3,.7],[37,70,8,.6],[28,60,7,.6],[33,57,9,.5],[38,58,3,.5],[43,57,7,.5],[30,55,5,.5],[36,52,0,.5],[40,51,8,.5],[45,52,4,.5],[28,48,3,.5],[33,47,8,.4],[38,47,4,.4],[43,47,7,.4],[36,50,10,.4],[32,45,5,.4],[38,44,3,.4],[41,43,7,.4],[46,43,4,.4],[28,42,5,.5],[33,41,6,.4],[37,41,8,.4],[25,47,8,.5],[27,38,7,.5],[32,37,3,.5],[26,34,4,.5],[62,27,1,.7],[66,28,4,.6],[62,24,3,.8],[66,23,0,.9],[61,22,7,.8],[64,19,2,1],[60,17,9,1],[41,83.6,0,1],[41.4,82.4,7,.9],[38.4,81.9,9,1],[43.4,81.1,4,.8],[37.4,80.3,3,.9],[41.4,79.8,1,.9],[34.3,79.4,3,1],[43.8,78,8,.6],[53.9,78.4,3,.7],[49.5,76.3,4,.5],[52.9,75,9,.5],[29.3,75.2,8,.9],[35.8,76.1,3,1],[38.4,73.1,3,1],[41.4,74.4,6,.6],[25.9,71.3,1,.9],[21.8,70.2,10,.8],[30.3,71.3,4,1],[52.5,72,4,.6],[57.2,69.7,7,.6],[62.2,68.7,3,.8],[19.6,66.8,5,1],[24.2,66.8,4,.9],[25.3,64.3,6,1],[29.9,65.1,8,.9],[35.8,67,3,.9],[39.4,68.5,6,.7],[46.5,67.2,9,.7],[47.5,68.1,10,.7],[51.9,65.1,6,.6],[54.5,62.6,10,.5],[51.5,63,6,.6],[60.6,63.4,6,1],[23.6,61.8,1,.8],[31.3,61.3,7,.9],[35.4,60.1,4,.8],[38.8,60.5,3,.7],[44,60.5,2,.7],[51.5,61.8,3,.7],[21.2,58.7,0,.9],[25.3,58.7,4,.8],[32.3,58.4,8,.7],[47.5,58,1,.7],[53.1,58.4,5,1],[57.6,57.6,6,.8],[63.2,57.3,3,.8],[51.5,56.7,10,1],[56.6,55.9,8,.9],[15.6,54.5,0,.9],[20.2,52.9,0,.9],[26.3,54.2,1,.6],[33.3,54.6,8,.7],[38.4,54.2,0,.7],[42.4,52.9,3,.7],[48.5,53.6,2,.8],[51.1,52.1,10,1],[29.3,51.7,8,.6],[34.3,50.4,6,.6],[39.4,49.6,8,.6],[48.5,49.2,5,1],[44.4,48.7,4,.6],[22.2,47.9,10,.6],[26.3,48.3,2,.7],[17.8,46.9,2,.7],[31.3,46.6,7,.5],[36.4,46.2,3,.5],[41.4,45.8,4,.5],[47.5,46.6,0,.9],[44.4,45,3,.5],[48.5,43.7,2,.5],[71.7,49.3,5,.5],[70.7,47.3,4,.5],[74.3,45.4,5,.5],[54.5,44.5,5,.6],[54.9,45.8,8,.7],[23.2,44.5,2,.8],[21.6,42.9,0,.8],[30.3,43.3,6,.5],[34.3,42,8,.4],[39.4,42.9,7,.4],[22.2,39.5,7,.7],[30.3,40.3,4,.5],[34.3,39.5,5,.5],[46.5,39.5,8,.8],[47.5,37,2,.8],[57.6,40.8,5,.8],[63.6,40.2,7,.7],[61,37,3,.5],[69.7,38.2,8,.7],[60,34.9,1,.5],[79.2,35.5,5,.5],[29.3,37,3,.7],[25.3,36.1,8,.6],[27.9,34,6,.5],[21.2,32.8,9,.9],[24.2,30.1,3,.7],[53.5,32.8,7,.5],[49.5,36.1,6,.5],[62.6,31.5,5,.5],[51.1,28.8,10,.5],[75.2,31.1,6,.7],[64.6,29.4,4,.5],[70.7,29.8,3,.7],[68.7,28.2,0,.9],[71.7,27.7,2,.9],[65.7,26.9,1,1],[16.6,26.1,3,1],[22.2,25.2,8,1],[24.2,24.6,7,.9],[54.5,24.1,7,.8],[59,24.4,1,.7],[65.7,25.6,0,1],[67.7,23.9,6,.8],[63.6,22.3,8,1],[64.6,21,9,1],[62.6,20.2,9,1],[60.2,18.9,10,1],[58.6,18.1,9,1],[56.6,16.4,2,1]];

// titles and tick labels
var titles2 = ["TSNE N:2","LLE N:2","MDS euclidian N:2","MDS cosine N:2","",""];
var titles3 = ["TSNE N:3","LLE N:3","MDS euclidian N:3","MDS cosine N:3","",""];
var xTicks2 = [[-40,-30,-20,-10,0,10,20,30,40],[-.3,-.2,-.1,0,.1,.2,.3,.4,.5],[-1.5,-1,-.5,0,.5,1,1.5],[-.4,-.2,0,.2,.4,.6],[-.2,0,.2,.4,.6,.8,1,1.2],[-.2,0,.2,.4,.6,.8,1,1.2]];
var yTicks2 = [[-40,-30,-20,-10,0,10,20,30,40],[-.1,-.05,0,.05,.1,.15,.2,.25,.3],[-1.5,-1,-.5,0,.5,1,1.5],[-.8,-.6,-.4,-.2,0,.2,.4,.6],[-.2,0,.2,.4,.6,.8,1,1.2],[0,.2,.4,.6,.8,1,1.2]];
var xFmt2 = ["d",".1f",".1f",".1f",".1f",".1f"];
var yFmt2 = ["d",".2f",".1f",".1f",".1f",".1f"];
var xTicks3 = [[-40,-30,-20,-10,0,10,20,30],[-.1,-.05,0,.05,.1,.15,.2,.25],[-1.5,-1,-.5,0,.5,1,1.5],[-.5,-.4,-.3,-.2,-.1,0,.1,.2,.3,.4],[-.2,0,.2,.4,.6,.8,1,1.2],[-.2,0,.2,.4,.6,.8,1,1.2]];
var yTicks3 = [[-40,-30,-20,-10,0,10,20,30],[-.3,-.2,-.1,0,.1,.2,.3,.4],[-1.5,-1,-.5,0,.5,1,1.5],[-.5,-.4,-.3,-.2,-.1,0,.1,.2,.3,.4],[-.2,0,.2,.4,.6,.8,1,1.2],[-.2,0,.2,.4,.6,.8,1,1.2]];
var zTicks3 = [[-40,-30,-20,-10,0,10,20,30],[-.1,-.05,0,.05,.1,.15,.2,.25],[-1.5,-1,-.5,0,.5,1,1.5],[-.5,-.4,-.3,-.2,-.1,0,.1,.2,.3,.4],[-.2,0,.2,.4,.6,.8,1,1.2],[-.2,0,.2,.4,.6,.8,1,1.2]];
var xFmt3 = ["d",".2f",".1f",".1f",".1f",".1f"];
var yFmt3 = ["d",".1f",".1f",".1f",".1f",".1f"];
var zFmt3 = ["d",".2f",".1f",".1f",".1f",".1f"];

var data2 = [tsne2,lle2,mdsEuc2,mdsCos2,sc5,sc6];
var data3 = [tsne3,lle3,mdsEuc3,mdsCos3,sc5d3,sc6d3];

var svg_width = 3941;
var svg_height = 1566;
var panel_step = 637.9;
var panel_width = 532;
var panel_height = 655;
var first_left = 151.5;
var first_top = 96;
var tick_font = 49;
var title_font = 60;

// how the stored bottom row values map to pixels inside each panel
var viewDomainX = [[0,720],[0,720],[0,900],[0,1140],[0,100],[0,100]];
var viewRangeX = [[340,580],[292.1,532.1],[304.2,604.2],[206.3,586.3],[214.6,631.3],[214.6,631.3]];
var viewDomainY = [[0,900],[0,570],[0,900],[0,900],[0,100],[0,100]];
var viewRangeY = [[1010,1310],[1160,1350],[1040,1340],[1060,1360],[1493,927],[1493,927]];

var svg = d3.select("#chart")
    .append("svg")
    .attr("width", svg_width)
    .attr("height", svg_height)
    .style("display", "block");

function styleAxis(g, showLabels) {
    g.selectAll(".domain").remove();
    g.selectAll(".tick line").attr("stroke", "black").attr("stroke-width", 2);
    g.selectAll(".tick text")
        .attr("fill", "black")
        .style("font-size", tick_font + "px")
        .style("font-family", "'DejaVu Sans'");
    if (!showLabels) g.selectAll(".tick text").remove();
}

// top row
data2.forEach(function(points, i) {
    var chartGroup = svg.append("g")
        .attr("transform", `translate(${first_left + i * panel_step}, ${first_top})`);

    var xt = xTicks2[i];
    var yt = yTicks2[i];
    var x_scale = d3.scaleLinear()
        .domain([xt[0], xt[xt.length - 1]])
        .range([0, panel_width]);
    var y_scale = d3.scaleLinear()
        .domain([yt[0], yt[yt.length - 1]])
        .range([panel_height, 0]);

    chartGroup.append("g")
        .attr("transform", `translate(0,${panel_height})`)
        .call(d3.axisBottom(x_scale).tickValues(xt).tickFormat(d3.format(xFmt2[i])).tickSize(-16).tickSizeOuter(0).tickPadding(21))
        .call(styleAxis, true);
    chartGroup.append("g")
        .call(d3.axisTop(x_scale).tickValues(xt).tickSize(-16).tickSizeOuter(0))
        .call(styleAxis, false);
    chartGroup.append("g")
        .call(d3.axisLeft(y_scale).tickValues(yt).tickFormat(d3.format(yFmt2[i])).tickSize(-16).tickSizeOuter(0).tickPadding(18))
        .call(styleAxis, true);
    chartGroup.append("g")
        .attr("transform", `translate(${panel_width},0)`)
        .call(d3.axisRight(y_scale).tickValues(yt).tickSize(-16).tickSizeOuter(0))
        .call(styleAxis, false);

    chartGroup.selectAll("circle")
        .data(points)
        .enter()
        .append("circle")
        .attr("cx", d => x_scale(d[0]))
        .attr("cy", d => y_scale(d[1]))
        .attr("r", 10.5)
        .attr("fill", d => spectral[d[2]])
        .attr("stroke", "black")
        .attr("stroke-width", 4.5);

    chartGroup.append("rect")
        .attr("width", panel_width)
        .attr("height", panel_height)
        .attr("fill", "none")
        .attr("stroke", "black")
        .attr("stroke-width", 4.5);

    if (titles2[i]) {
        chartGroup.append("text")
            .attr("x", panel_width / 2)
            .attr("y", -20)
            .attr("text-anchor", "middle")
            .style("font-size", title_font + "px")
            .text(titles2[i]);
    }
});

// same view mplot3d uses by default: elev 30, azim -60, dist 10
var elev = 30 * Math.PI / 180;
var azim = -60 * Math.PI / 180;
var dist = 10;
var view_n = [Math.cos(azim) * Math.cos(elev), Math.sin(azim) * Math.cos(elev), Math.sin(elev)];
var view_u = [-Math.sin(azim), Math.cos(azim), 0];
var view_v = [-view_n[2] * view_u[1], view_n[2] * view_u[0], view_n[0] * view_u[1] - view_n[1] * view_u[0]];

function project(p) {
    var q = [p[0] - .5, p[1] - .5, p[2] - .5];
    var d = dist - d3.sum(q, (c, k) => c * view_n[k]);
    return [d3.sum(q, (c, k) => c * view_u[k]) / d, d3.sum(q, (c, k) => c * view_v[k]) / d];
}

// box pixels for the first panel, later panels are shifted by panel_step
var view_x = d3.scaleLinear().domain([project([0,0,0])[0], project([1,1,1])[0]]).range([225, 631]);
var view_y = d3.scaleLinear().domain([project([1,0,0])[1], project([1,1,1])[1]]).range([1493, 1003]);

var line3d = d3.line();

data3.forEach(function(points, i) {
    var group = svg.append("g")
        .attr("transform", `translate(${i * panel_step}, 0)`);

    function sp(p) {
        var s = project(p);
        return [view_x(s[0]), view_y(s[1])];
    }
    function poly(corners, fill) {
        group.append("path")
            .attr("d", line3d(corners.map(sp)) + "Z")
            .attr("fill", fill)
            .attr("stroke", fill)
            .attr("stroke-width", 3);
    }
    function seg(a, b, color, width) {
        group.append("path")
            .attr("d", line3d([sp(a), sp(b)]))
            .attr("fill", "none")
            .attr("stroke", color)
            .attr("stroke-width", width);
    }
    function label(pos, dx, dy, txt) {
        group.append("text")
            .attr("x", pos[0] + dx)
            .attr("y", pos[1] + dy)
            .attr("dy", ".36em")
            .attr("text-anchor", "middle")
            .style("font-size", tick_font + "px")
            .text(txt);
    }

    poly([[0,0,0],[0,1,0],[0,1,1],[0,0,1]], "#f9f9f9");
    poly([[0,1,0],[1,1,0],[1,1,1],[0,1,1]], "#f2f2f2");
    poly([[0,0,0],[1,0,0],[1,1,0],[0,1,0]], "#f5f5f5");

    var xs = d3.scaleLinear().domain([xTicks3[i][0], xTicks3[i][xTicks3[i].length - 1]]).range([0, 1]);
    var ys = d3.scaleLinear().domain([yTicks3[i][0], yTicks3[i][yTicks3[i].length - 1]]).range([0, 1]);
    var zs = d3.scaleLinear().domain([zTicks3[i][0], zTicks3[i][zTicks3[i].length - 1]]).range([0, 1]);

    xTicks3[i].forEach(function(t) {
        seg([xs(t),0,0], [xs(t),1,0], "#e6e6e6", 3.5);
        seg([xs(t),1,0], [xs(t),1,1], "#e6e6e6", 3.5);
    });
    yTicks3[i].forEach(function(t) {
        seg([0,ys(t),0], [1,ys(t),0], "#e6e6e6", 3.5);
        seg([0,ys(t),0], [0,ys(t),1], "#e6e6e6", 3.5);
    });
    zTicks3[i].forEach(function(t) {
        seg([0,0,zs(t)], [0,1,zs(t)], "#e6e6e6", 3.5);
        seg([0,1,zs(t)], [1,1,zs(t)], "#e6e6e6", 3.5);
    });

    seg([0,0,0], [1,0,0], "black", 2.5);
    seg([1,0,0], [1,1,0], "black", 2.5);
    seg([1,1,0], [1,1,1], "black", 2.5);

    xTicks3[i].forEach(function(t) {
        seg([xs(t),-.012,0], [xs(t),.02,0], "black", 3);
        label(sp([xs(t),0,0]), -22, 100, d3.format(xFmt3[i])(t));
    });
    yTicks3[i].forEach(function(t) {
        seg([.98,ys(t),0], [1.012,ys(t),0], "black", 3);
        label(sp([1,ys(t),0]), 38, 93, d3.format(yFmt3[i])(t));
    });
    zTicks3[i].forEach(function(t) {
        seg([1,1,zs(t)], [1.012,.988,zs(t)], "black", 3);
        label(sp([1,1,zs(t)]), 62, 12, d3.format(zFmt3[i])(t));
    });

    var view_px = d3.scaleLinear().domain(viewDomainX[i]).range(viewRangeX[i]);
    var view_py = d3.scaleLinear().domain(viewDomainY[i]).range(viewRangeY[i]);
    var big = i >= 4;
    group.selectAll("circle")
        .data(points)
        .enter()
        .append("circle")
        .attr("cx", d => view_px(d[0]))
        .attr("cy", d => view_py(d[1]))
        .attr("r", big ? 10.5 : 4.7)
        .attr("fill", d => spectral[d[2]])
        .attr("fill-opacity", d => big ? Math.min(1, d[3] + .1) : Math.min(.95, d[3] + .15))
        .attr("stroke", "black")
        .attr("stroke-width", big ? 4.5 : 4.2)
        .attr("stroke-opacity", d => big ? d[3] : Math.min(1, d[3] + .12));

    if (titles3[i]) {
        group.append("text")
            .attr("x", first_left + panel_width / 2)
            .attr("y", 914)
            .attr("text-anchor", "middle")
            .style("font-size", title_font + "px")
            .text(titles3[i]);
    }
});
</script>
</body>
</html>
